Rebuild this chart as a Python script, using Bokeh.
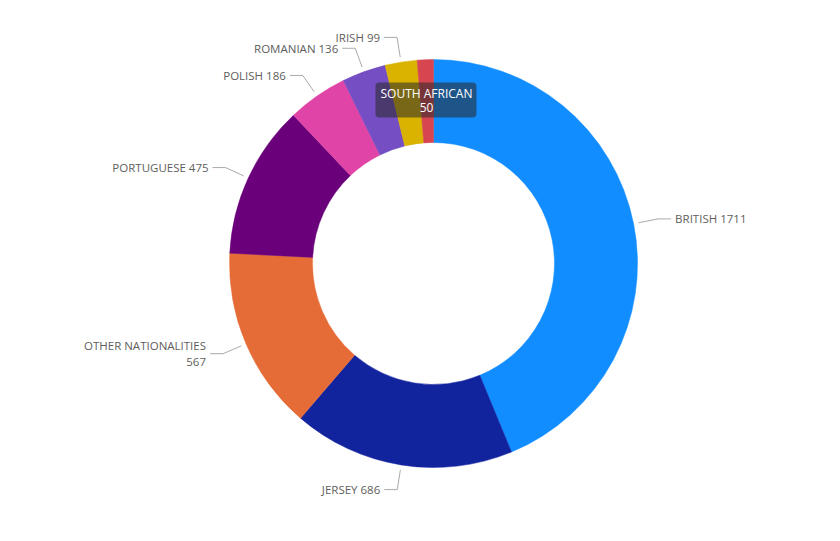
import math
from bokeh.plotting import figure
from bokeh.models import Range1d, BoxAnnotation, Label
from bokeh.core.properties import value
from bokeh.embed import file_html
from bokeh.resources import INLINE

# ---- data ----
categories = ["BRITISH", "JERSEY", "OTHER NATIONALITIES", "PORTUGUESE",
              "POLISH", "ROMANIAN", "IRISH", "SOUTH AFRICAN"]
counts = [1711, 686, 567, 475, 186, 136, 99, 50]
colors = ["#118DFF", "#12239E", "#E66C37", "#6B007B",
          "#E044A7", "#744EC2", "#D9B300", "#D64550"]
show_label = [True, True, True, True, True, True, True, False]
tooltip_category = "SOUTH AFRICAN"

W, H = 840, 541
CX, CY = 433, 263          # pixel centre of the donut
R_OUT, R_IN = 204, 121
FONT = "Open Sans"
LABEL_COLOR = "#605E5C"

def Y(py):
    return H - py

p = figure(width=W, height=H, x_range=Range1d(0, W), y_range=Range1d(0, H),
           output_backend="svg", toolbar_location=None, min_border=0)
p.axis.visible = False
p.grid.visible = False
p.outline_line_color = None
p.background_fill_color = "white"
p.border_fill_color = "white"

total = float(sum(counts))
starts, ends, mids = [], [], []
acc = 0.0
for v in counts:
    a0 = acc / total * 2 * math.pi
    acc += v
    a1 = acc / total * 2 * math.pi
    starts.append(math.pi / 2 - a0)
    ends.append(math.pi / 2 - a1)
    mids.append((a0 + a1) / 2)

p.annular_wedge(x=[CX] * len(counts), y=[Y(CY)] * len(counts),
                inner_radius=R_IN, outer_radius=R_OUT,
                start_angle=starts, end_angle=ends, direction="clock",
                fill_color=colors, line_color=colors, line_width=0.5)

# ---- labels with leader lines ----
xs, ys = [], []
for cat, v, m, show in zip(categories, counts, mids, show_label):
    if not show:
        continue
    sx, sy = CX + (R_OUT + 5) * math.sin(m), CY - (R_OUT + 5) * math.cos(m)
    ex, ey = CX + 229 * math.sin(m), CY - 229 * math.cos(m)
    right = math.sin(m) >= 0
    hx = ex + 13 if right else ex - 13
    xs.append([sx, ex, hx])
    ys.append([Y(sy), Y(ey), Y(ey)])
    tx = hx + 4 if right else hx - 4
    align = "left" if right else "right"
    label = f"{cat} {v}"
    if len(label) > 18:
        lines = [(cat, ey - 8), (str(v), ey + 8)]
    else:
        lines = [(label, ey)]
    for t, ty in lines:
        p.text(x=[tx], y=[Y(ty)], text=[t], text_align=align,
               text_baseline="middle", text_font=value(FONT),
               text_font_size="11.5px", text_color=LABEL_COLOR)

p.multi_line(xs=xs, ys=ys, line_color="#AAAAAA", line_width=1)

# ---- hover tooltip ----
ti = categories.index(tooltip_category)
p.add_layout(BoxAnnotation(left=375, right=476, top=Y(82), bottom=Y(117),
                           fill_color="#282828", fill_alpha=0.55,
                           line_color=None, border_radius=4))
for t, ty in [(categories[ti], 93), (str(counts[ti]), 106.5)]:
    p.add_layout(Label(x=426, y=Y(ty), text=t, text_align="center",
                       text_baseline="middle", text_font=FONT,
                       text_font_size="12px", text_color="white"))

open("out.html", "w").write(file_html(p, INLINE))
